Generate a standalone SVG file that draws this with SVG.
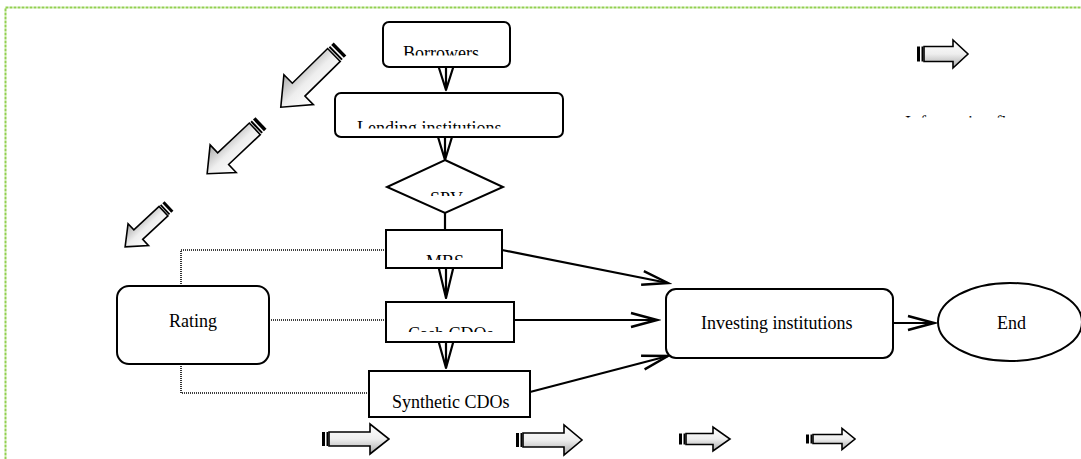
<svg xmlns="http://www.w3.org/2000/svg" width="1081" height="459" viewBox="0 0 1081 459">
<style>
  .box { fill: #fff; stroke: #000; stroke-width: 2; }
  .lbl { font-family: "Liberation Serif", "Times New Roman", serif; font-size: 18px; fill: #000; }
  .dot { fill: none; stroke: #000; stroke-width: 1.6; stroke-dasharray: 1 1; }
  .conn { fill: none; stroke: #000; stroke-width: 2.2; }
  .down { fill: none; stroke: #000; stroke-width: 2.2; stroke-linecap: round; }
  .blk { fill: url(#g); stroke: #000; stroke-width: 1.6; stroke-linejoin: miter; }
</style>
<defs>
  <linearGradient id="g" x1="0" y1="0" x2="0" y2="1">
    <stop offset="0" stop-color="#ffffff"/>
    <stop offset="0.5" stop-color="#eeeeee"/>
    <stop offset="1" stop-color="#a8a8a8"/>
  </linearGradient>
  <marker id="open" markerUnits="userSpaceOnUse" markerWidth="32" markerHeight="20" refX="28" refY="9" orient="auto">
    <path d="M2,2 L28,9 L2,16" fill="none" stroke="#000" stroke-width="2.4"/>
  </marker>
  <clipPath id="cB"><rect x="380" y="20" width="140" height="35.5"/></clipPath>
  <clipPath id="cL"><rect x="330" y="90" width="240" height="38.5"/></clipPath>
  <clipPath id="cS"><rect x="380" y="150" width="130" height="46"/></clipPath>
  <clipPath id="cM"><rect x="380" y="225" width="130" height="35"/></clipPath>
  <clipPath id="cC"><rect x="380" y="300" width="140" height="32"/></clipPath>
  <clipPath id="cY"><rect x="365" y="365" width="170" height="48"/></clipPath>
  <clipPath id="cI"><rect x="880" y="90" width="200" height="27.5"/></clipPath>
</defs>

<rect x="5.5" y="7.5" width="1100" height="470" fill="none" stroke="#92D050" stroke-width="2" stroke-dasharray="3 1"/>

<g id="connectors">
  <path class="dot" d="M181,286 V250 H386"/>
  <path class="dot" d="M269,320 H386"/>
  <path class="dot" d="M181,364 V393 H369"/>
  <line class="conn" x1="445" y1="213" x2="445" y2="230"/>
  <line class="conn" x1="502" y1="250" x2="668" y2="283" marker-end="url(#open)"/>
  <line class="conn" x1="514" y1="320" x2="657" y2="320" marker-end="url(#open)"/>
  <line class="conn" x1="530" y1="392" x2="668" y2="356" marker-end="url(#open)"/>
  <line class="conn" x1="893" y1="323" x2="934" y2="323" marker-end="url(#open)"/>
  <g id="down1">
    <path class="down" d="M439,68 L446,90 M446,68 L446,90 M453,68 L446,90"/>
  </g>
  <g id="down2">
    <path class="down" d="M438,137 L445,160 M445,137 L445,160 M452,137 L445,160"/>
  </g>
  <g id="down3">
    <path class="down" d="M439,269 L446,298 M446,269 L446,298 M453,269 L446,298"/>
  </g>
  <g id="down4">
    <path class="down" d="M439,343 L446,368 M446,343 L446,368 M453,343 L446,368"/>
  </g>
</g>

<g id="borrowers">
  <rect class="box" x="383" y="22" width="127" height="45" rx="6"/>
  <text class="lbl" x="403" y="59" clip-path="url(#cB)">Borrowers</text>
</g>
<g id="lending">
  <rect class="box" x="335" y="93" width="228" height="44" rx="6"/>
  <text class="lbl" x="357" y="134" clip-path="url(#cL)">Lending institutions</text>
</g>
<g id="spv">
  <polygon class="box" points="445,160 503,187 445,213 387,187"/>
  <text class="lbl" x="430" y="205" clip-path="url(#cS)">SPV</text>
</g>
<g id="mbs">
  <rect class="box" x="386" y="230" width="116" height="38"/>
  <text class="lbl" x="426" y="268" clip-path="url(#cM)">MBS</text>
</g>
<g id="cash">
  <rect class="box" x="386" y="302" width="128" height="40"/>
  <text class="lbl" x="408" y="340" clip-path="url(#cC)">Cash CDOs</text>
</g>
<g id="synthetic">
  <rect class="box" x="369" y="371" width="161" height="46"/>
  <text class="lbl" x="392" y="408" clip-path="url(#cY)">Synthetic CDOs</text>
</g>
<g id="rating">
  <rect class="box" x="117" y="286" width="152" height="78" rx="12"/>
  <text class="lbl" x="169" y="327">Rating</text>
</g>
<g id="investing">
  <rect class="box" x="666" y="289" width="227" height="69" rx="10"/>
  <text class="lbl" x="701" y="329">Investing institutions</text>
</g>
<g id="end">
  <ellipse class="box" cx="1010" cy="322" rx="72" ry="39"/>
  <text class="lbl" x="997" y="329">End</text>
</g>

<g id="legend">
  <text class="lbl" x="905" y="129" clip-path="url(#cI)">Information flow</text>
</g>

<g id="diag1" transform="translate(340,49) rotate(135.5)">
  <rect x="0" y="-9" width="3.5" height="18"/>
  <rect x="5" y="-9" width="2" height="18"/>
  <path class="blk" d="M8.5,-9 L58,-9 L58,-21 L83,0 L58,21 L58,9 L8.5,9 Z"/>
</g>
<g id="diag2" transform="translate(261,123) rotate(136.7)">
  <rect x="0" y="-8" width="3.5" height="16"/>
  <rect x="5" y="-8" width="2" height="16"/>
  <path class="blk" d="M8.5,-8 L52,-8 L52,-19 L74,0 L52,19 L52,8 L8.5,8 Z"/>
</g>
<g id="diag3" transform="translate(169,206) rotate(137)">
  <rect x="0" y="-6.5" width="3" height="13"/>
  <rect x="4.5" y="-6.5" width="1.8" height="13"/>
  <path class="blk" d="M7.5,-6.5 L42,-6.5 L42,-15 L60,0 L42,15 L42,6.5 L7.5,6.5 Z"/>
</g>

<g id="right1" transform="translate(917,54)">
  <rect x="0" y="-7.5" width="3" height="15"/>
  <rect x="4.5" y="-7.5" width="1.8" height="15"/>
  <path class="blk" d="M7,-7.5 L36,-7.5 L36,-14 L51,0 L36,14 L36,7.5 L7,7.5 Z"/>
</g>
<g id="right2" transform="translate(322,439)">
  <rect x="0" y="-7" width="3" height="14"/>
  <rect x="4.5" y="-7" width="1.8" height="14"/>
  <path class="blk" d="M7,-7 L48,-7 L48,-15 L67,0 L48,15 L48,7 L7,7 Z"/>
</g>
<g id="right3" transform="translate(516,440)">
  <rect x="0" y="-7" width="3" height="14"/>
  <rect x="4.5" y="-7" width="1.8" height="14"/>
  <path class="blk" d="M7,-7 L48,-7 L48,-15 L66,0 L48,15 L48,7 L7,7 Z"/>
</g>
<g id="right4" transform="translate(679,439)">
  <rect x="0" y="-5.5" width="3" height="11"/>
  <rect x="4.5" y="-5.5" width="1.8" height="11"/>
  <path class="blk" d="M7,-5.5 L34,-5.5 L34,-12 L51,0 L34,12 L34,5.5 L7,5.5 Z"/>
</g>
<g id="right5" transform="translate(806,439)">
  <rect x="0" y="-4.5" width="3" height="9"/>
  <rect x="4.5" y="-4.5" width="1.8" height="9"/>
  <path class="blk" d="M7,-4.5 L36,-4.5 L36,-10.5 L49,0 L36,10.5 L36,4.5 L7,4.5 Z"/>
</g>
</svg>
